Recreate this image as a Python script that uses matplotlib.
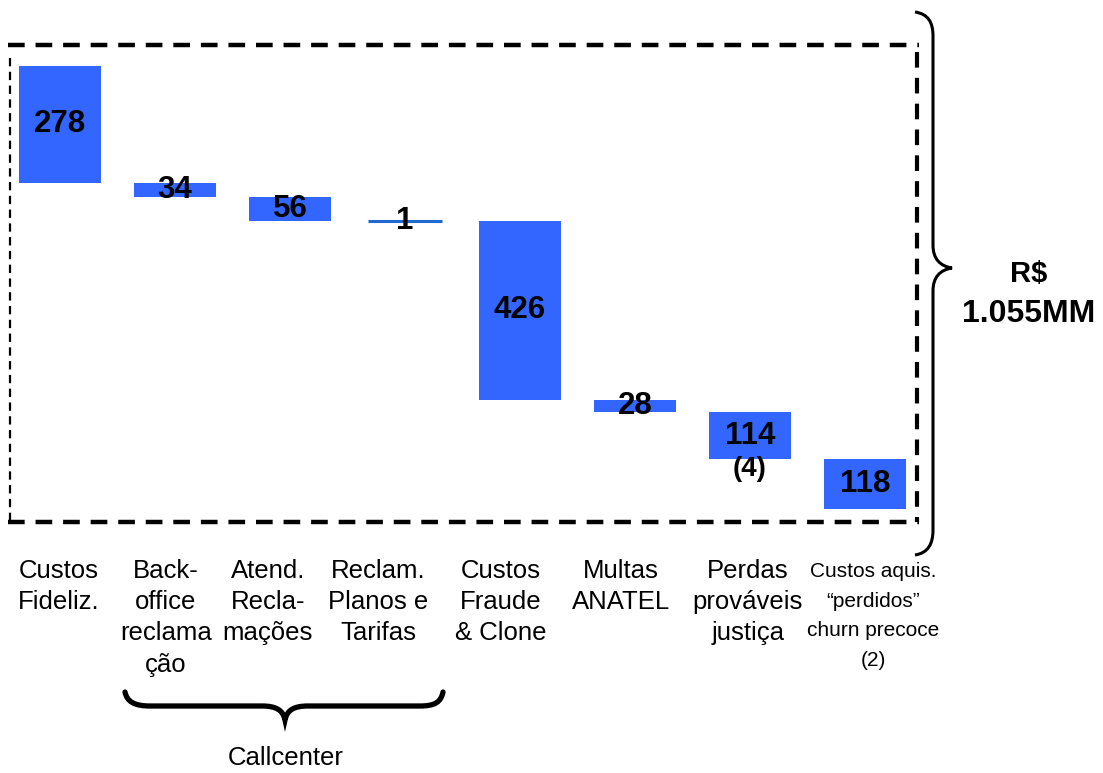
import matplotlib
matplotlib.use('Agg')
import matplotlib.pyplot as plt
import numpy as np
from matplotlib.path import Path
from matplotlib.patches import PathPatch
from matplotlib.lines import Line2D

# ---------------- data ----------------
categories = ["Custos\nFideliz.",
              "Back-\noffice\nreclama\nção",
              "Atend.\nRecla-\nmações",
              "Reclam.\nPlanos e\nTarifas",
              "Custos\nFraude\n& Clone",
              "Multas\nANATEL",
              "Perdas\nprováveis\njustiça",
              "Custos aquis.\n“perdidos”\nchurn precoce\n(2)"]
values = [278, 34, 56, 1, 426, 28, 114, 118]
bar_labels = ["278", "34", "56", "1", "426", "28", "114", "118"]
note_index = 6
note_label = "(4)"
total_lines = ["R$", "1.055MM"]
group_label = "Callcenter"

# ---------------- layout ----------------
W, H = 1103, 773
label_centers_px = [59, 166, 268, 378, 501, 621, 748, 873]
label_sizes = [18.5, 18.5, 18.5, 18.5, 18.5, 18.5, 18.5, 15.0]

plt.rcParams['font.family'] = ['Liberation Sans', 'DejaVu Sans']

fig = plt.figure(figsize=(W / 100, H / 100), dpi=100)
ax = fig.add_axes([0, 0, 1, 1])
ax.set_axis_off()

x0_px, dx_px = 60.0, 115.0
base_px, scale = 509.0, 443.0 / sum(values)
ax.set_xlim(-x0_px / dx_px, (W - x0_px) / dx_px)
ax.set_ylim((base_px - H) / scale, base_px / scale)


def fx(px):
    return px / W


def fy(py):
    return 1 - py / H


total = sum(values)
cum = np.cumsum(values)
bottoms = total - cum
x = np.arange(len(values))

colors = ['#3366ff'] * len(values)
edges = ['#3366ff'] * len(values)
lws = [0] * len(values)
colors[3] = '#1f6ad0'
edges[3] = '#1f6ad0'
lws[3] = 2.2
widths = [0.715] * len(values)
widths[3] = 0.64
ax.bar(x, values, bottom=bottoms, width=widths, color=colors,
       edgecolor=edges, linewidth=lws, zorder=2)

for i, (v, b, lab) in enumerate(zip(values, bottoms, bar_labels)):
    ax.text(i, b + v / 2, lab, ha='center', va='center', fontsize=22.5,
            fontweight='bold', color='black', zorder=3)

ax.annotate(note_label, xy=(note_index, bottoms[note_index]),
            xytext=(0, -7), textcoords='offset points',
            ha='center', va='center', fontsize=20, fontweight='bold', zorder=3)

# category labels (constant ~33 px baseline spacing)
for i, cat in enumerate(categories):
    fs = label_sizes[i]
    top = 559 if fs >= 18 else 562
    fig.text(fx(label_centers_px[i]), fy(top), cat, ha='center', va='top',
             fontsize=fs, linespacing=1.38 * 18.5 / fs, color='black')

# dashed box
dash = (0, (3.75, 2.45))
kw = dict(transform=fig.transFigure, color='black', linestyle=dash,
          dash_capstyle='butt')
fig.add_artist(Line2D([fx(8), fx(919)], [fy(45), fy(45)], lw=3.2, **kw))
fig.add_artist(Line2D([fx(8), fx(919)], [fy(522), fy(522)], lw=3.2, **kw))
fig.add_artist(Line2D([fx(9.5), fx(9.5)], [fy(58), fy(522)], lw=1.6, **kw))
fig.add_artist(Line2D([fx(917), fx(917)], [fy(52), fy(522)], lw=3.0, **kw))

# right brace
rb = [(915, 12), (928, 14), (933, 22), (933, 36),
      (933, 245),
      (933, 259), (940, 266), (952, 268),
      (940, 270), (933, 277), (933, 291),
      (933, 530),
      (933, 544), (928, 553), (915, 555)]
codes = [Path.MOVETO, Path.CURVE4, Path.CURVE4, Path.CURVE4,
         Path.LINETO,
         Path.CURVE4, Path.CURVE4, Path.CURVE4,
         Path.CURVE4, Path.CURVE4, Path.CURVE4,
         Path.LINETO,
         Path.CURVE4, Path.CURVE4, Path.CURVE4]
fig.add_artist(PathPatch(Path([(fx(a), fy(b)) for a, b in rb], codes),
                         transform=fig.transFigure, fill=False,
                         edgecolor='black', lw=2.2))

# bottom brace (Callcenter group)
bb = [(125, 692), (127, 702), (135, 706), (150, 706),
      (262, 706),
      (276, 706), (283, 710), (285, 720),
      (287, 710), (294, 706), (308, 706),
      (420, 706),
      (435, 706), (441, 702), (443, 692)]
fig.add_artist(PathPatch(Path([(fx(a), fy(b)) for a, b in bb], codes),
                         transform=fig.transFigure, fill=False,
                         edgecolor='black', lw=3.8, capstyle='round'))

fig.text(fx(286), fy(765), group_label, ha='center', va='baseline',
         fontsize=18.5, color='black')

fig.text(fx(1029), fy(282), total_lines[0], ha='center', va='baseline',
         fontsize=21, fontweight='bold')
fig.text(fx(1029), fy(322), total_lines[1], ha='center', va='baseline',
         fontsize=23, fontweight='bold')

fig.savefig('out.png', dpi=100)
